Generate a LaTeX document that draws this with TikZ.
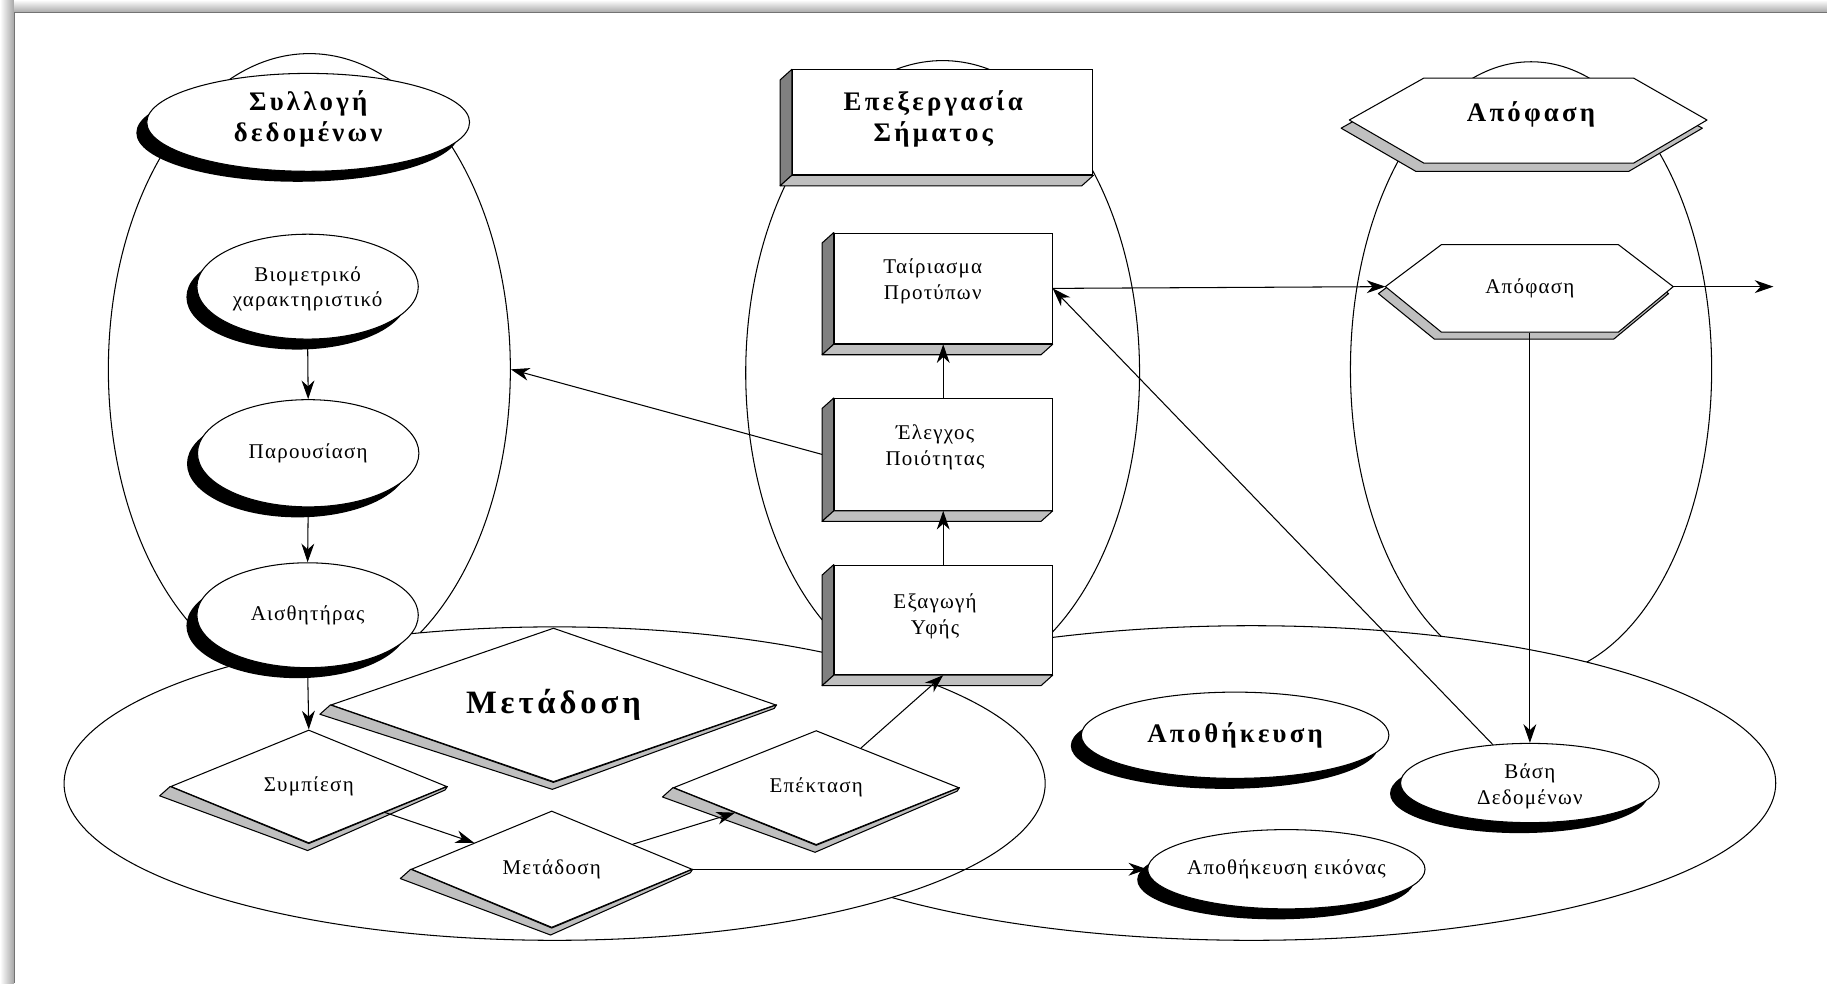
\documentclass[tikz,border=0pt]{standalone}
\usepackage{fontspec}
\setmainfont{Liberation Serif}
\newfontfamily\lblfont{Liberation Serif}[LetterSpace=6]
\newfontfamily\ttlfont{Liberation Serif}[LetterSpace=12]
\usetikzlibrary{shapes.geometric,shadows,arrows.meta,calc}
\definecolor{sidegray}{gray}{0.5}
\definecolor{stripgray}{gray}{0.75}
\newcommand\boxfaces[1]{%
  \filldraw[face, fill=sidegray] (#1.north west) -- ++(-10,9) -- ($(#1.south west)+(-10,9)$) -- (#1.south west) -- cycle;
  \filldraw[face, fill=stripgray] (#1.south west) -- ++(-10,9) -- ($(#1.south east)+(-10,9)$) -- (#1.south east) -- cycle;}
\newcommand\diafaces[1]{%
  \filldraw[face, fill=stripgray] (#1.west) -- ($(#1.west)+(-9,8)$) -- ($(#1.south)+(-1,6)$) -- ($(#1.east)+(-2,3)$) -- (#1.east) -- (#1.south) -- cycle;}
\begin{document}
\begin{tikzpicture}[x=1pt,y=-1pt,
  every node/.style={inner sep=0pt, line width=0.9pt},
  lbl/.style={font=\lblfont\fontsize{18}{22}\selectfont, align=center},
  ttl/.style={font=\ttlfont\bfseries\fontsize{23}{27}\selectfont, align=center},
  cont/.style={draw, ellipse, line width=0.9pt},
  bigell/.style={draw, ellipse, fill=white, line width=0.9pt},
  shell/.style={ellipse, draw, fill=white, general shadow={fill=black, shadow xshift=-9pt, shadow yshift=-9pt}},
  box3d/.style={rectangle, draw, fill=white},
  dia/.style={diamond, shape aspect=3, draw, fill=white},
  conn/.style={-{Stealth[length=16pt,width=11pt,inset=5pt]}, line width=0.9pt},
  face/.style={draw, line width=0.9pt, line join=round},
  hexfront/.style={draw, fill=white, line width=0.9pt, line join=round},
  hexstrip/.style={draw, fill=stripgray, line width=0.9pt, line join=round},
]
\useasboundingbox (0,0) rectangle (1568,844);
\fill[white] (0,0) rectangle (1568,844);
% frame shadow
\shade[top color=white, bottom color=black!35] (10,0) rectangle (1568,11);
\shade[left color=white, right color=black!35] (0,0) rectangle (12,844);
\draw[black!55, line width=0.8pt] (12,844) -- (12,11) -- (1568,11);

% vertical containers
\node[cont, minimum width=345pt, minimum height=542pt] (sylc) at (265.5,317) {};
\node[cont, minimum width=338pt, minimum height=536pt] (epec) at (809,320) {};
\node[cont, minimum width=310pt, minimum height=528pt] (apoc) at (1314,317) {};
% horizontal containers
\node[bigell, minimum width=900pt, minimum height=270pt] (stoc) at (1074,672) {};
\node[bigell, minimum width=842pt, minimum height=269pt] (metc) at (476,672.5) {};

% --- Data collection
\node[shell, minimum width=277pt, minimum height=84pt, label={[ttl, yshift=3pt]center:Συλλογή\\δεδομένων}] (sylt) at (264.5,105) {};
\node[shell, minimum width=190pt, minimum height=90pt, label={[lbl, yshift=-2pt]center:Βιομετρικό\\χαρακτηριστικό}] (bio) at (264,246) {};
\node[shell, lbl, minimum width=190pt, minimum height=92pt] (par) at (264.5,389) {Παρουσίαση};
\node[shell, lbl, minimum width=190pt, minimum height=90pt] (ais) at (264,528) {Αισθητήρας};

% --- Signal processing
\node[box3d, minimum width=258pt, minimum height=90pt, label={[ttl, xshift=-8pt, yshift=3pt]center:Επεξεργασία\\Σήματος}] (epet) at (809,105) {};
\boxfaces{epet}
\node[box3d, minimum width=187pt, minimum height=95pt, label={[lbl, xshift=-9pt, yshift=6pt]center:Ταίριασμα\\Προτύπων}] (tair) at (809.5,247.5) {};
\boxfaces{tair}
\node[box3d, minimum width=187pt, minimum height=96pt, label={[lbl, xshift=-7pt, yshift=6pt]center:Έλεγχος\\Ποιότητας}] (eleg) at (809.5,390) {};
\boxfaces{eleg}
\node[box3d, minimum width=187pt, minimum height=94pt, label={[lbl, xshift=-7pt, yshift=3pt]center:Εξαγωγή\\Υφής}] (exag) at (809.5,532) {};
\boxfaces{exag}

% --- Decision
\filldraw[hexstrip] (1151,110) -- (1215,147) -- (1398,147) -- (1461,110) -- (1395,74) -- (1215,74) -- cycle;
\filldraw[hexfront] (1158,103) -- (1222,67) -- (1402,67) -- (1465,103) -- (1402,140) -- (1222,140) -- cycle;
\node[ttl] (apot) at (1314,98) {Απόφαση};
\filldraw[hexstrip] (1183,252) -- (1231,291) -- (1385,291) -- (1432,252) -- (1383,216) -- (1231,216) -- cycle;
\filldraw[hexfront] (1189,246) -- (1237,210) -- (1389,210) -- (1436,246) -- (1389,285) -- (1237,285) -- cycle;
\node[lbl, minimum width=152pt, minimum height=75pt] (apo) at (1313,247.5) {Απόφαση};
\coordinate (apL) at (1189,246);
\coordinate (apR) at (1436,246);
\coordinate (apout) at (1522,246);

% --- Transmission
\node[dia, minimum width=382pt, minimum height=132pt, font=\ttlfont\bfseries\fontsize{28}{32}\selectfont] (mett) at (475,605) {Μετάδοση};
\diafaces{mett}
\node[dia, lbl, minimum width=237pt, minimum height=97pt] (symp) at (265,675) {Συμπίεση};
\diafaces{symp}
\node[dia, lbl, minimum width=241pt, minimum height=100pt] (metd) at (473.5,746) {Μετάδοση};
\diafaces{metd}
\node[dia, lbl, minimum width=245pt, minimum height=98pt] (epek) at (700.5,676) {Επέκταση};
\diafaces{epek}

% --- Storage
\node[shell, ttl, minimum width=264pt, minimum height=74pt] (apoth) at (1060,631) {Αποθήκευση};
\node[shell, minimum width=222pt, minimum height=68pt, label={[lbl, yshift=-3pt]center:Βάση\\Δεδομένων}] (base) at (1313,672) {};
\node[shell, minimum width=238pt, minimum height=68pt, label={[lbl]center:Αποθήκευση εικόνας}] (apoeik) at (1104,746) {};

% --- connectors
\draw[conn] (bio.south) -- (par.north);
\draw[conn] (par.south) -- (ais.north);
\draw[conn] (ais.south) -- (symp.north);
\draw[conn] (symp) -- (metd);
\draw[conn] (metd) -- (epek);
\draw[conn] (epek) -- (exag.south);
\draw[conn] (metd.east) -- (apoeik.west);
\draw[conn] (exag.north) -- (eleg.south);
\draw[conn] (eleg.north) -- (tair.south);
\draw[conn] ([xshift=-10pt]eleg.west) -- (sylc.east);
\draw[conn] (tair.east) -- (apL);
\draw[conn] (apR) -- (apout);
\draw[conn] (apo.south) -- (base.north);
\draw[conn] (base.134) -- (tair.east);
\end{tikzpicture}
\end{document}
